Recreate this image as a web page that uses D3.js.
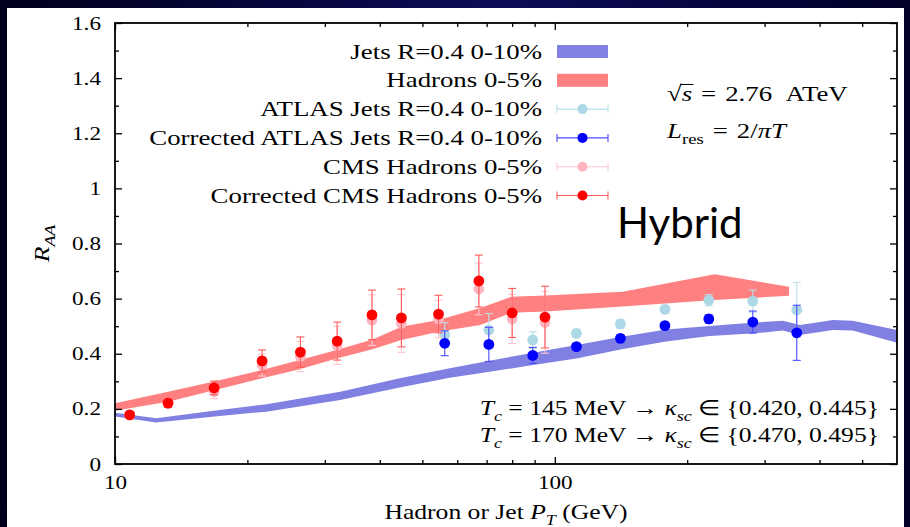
<!DOCTYPE html>
<html><head><meta charset="utf-8">
<script src="https://cdn.jsdelivr.net/npm/d3@7"></script>
<style>
html,body{margin:0;padding:0;background:#fff;}
svg{display:block;}
text{font-family:"Liberation Serif","Times New Roman",serif;fill:#000;}
</style></head><body>
<svg id="chart" width="910" height="527"></svg>
<script>
// ---------- data ----------
// CMS charged hadrons 0-5% (pT bin centres, GeV)
const hadronPt    = [10.8, 13.2, 16.8, 21.6, 26.4, 32.0, 38.4, 44.8, 54.4, 67.2, 80.0, 95.0];
const cmsRaa      = [0.178, 0.220, 0.263, 0.359, 0.390, 0.430, 0.522, 0.510, 0.526, 0.635, 0.526, 0.514];
const cmsErr      = [0.012, 0.015, 0.026, 0.040, 0.055, 0.069, 0.092, 0.105, 0.068, 0.094, 0.089, 0.112];
const corrCmsRaa  = [0.178, 0.221, 0.276, 0.374, 0.406, 0.446, 0.541, 0.530, 0.544, 0.664, 0.548, 0.533];
const corrCmsErr  = [0.012, 0.015, 0.025, 0.040, 0.055, 0.069, 0.090, 0.105, 0.068, 0.094, 0.089, 0.112];

// ATLAS jets R=0.4 0-10%
const jetPt        = [56.2, 70.8, 89.1, 112, 141, 178, 224, 282, 355];
const atlasRaa     = [0.468, 0.486, 0.450, 0.474, 0.508, 0.561, 0.594, 0.591, 0.559];
const atlasErr     = [0.045, 0.060, 0.030, 0.015, 0.015, 0.015, 0.020, 0.040, 0.100];
const corrAtlasRaa = [0.438, 0.434, 0.394, 0.426, 0.456, 0.502, 0.526, 0.515, 0.476];
const corrAtlasErr = [0.045, 0.062, 0.029, 0.012, 0.012, 0.012, 0.015, 0.040, 0.100];

// Hybrid model bands
const hadronBandPt = [10, 13.2, 16.8, 21.6, 26.3, 31.9, 38.5, 44.8, 54.4, 67.7, 79.8, 95.2, 142.7, 231, 341];
const hadronBandLo = [0.193, 0.226, 0.268, 0.311, 0.344, 0.383, 0.416, 0.450, 0.480, 0.504, 0.549, 0.553, 0.571, 0.595, 0.610];
const hadronBandHi = [0.220, 0.262, 0.299, 0.341, 0.377, 0.414, 0.452, 0.498, 0.522, 0.566, 0.607, 0.611, 0.625, 0.688, 0.643];

const jetBandPt = [10, 12.4, 17.3, 22.1, 32.5, 44.4, 57.7, 71.1, 89.3, 112, 142, 179, 225, 285, 330, 361, 429, 476, 600];
const jetBandLo = [0.172, 0.151, 0.174, 0.190, 0.232, 0.278, 0.313, 0.335, 0.359, 0.383, 0.416, 0.444, 0.464, 0.474, 0.484, 0.468, 0.486, 0.484, 0.440];
const jetBandHi = [0.186, 0.166, 0.196, 0.217, 0.262, 0.311, 0.347, 0.375, 0.404, 0.432, 0.462, 0.488, 0.501, 0.513, 0.520, 0.504, 0.522, 0.520, 0.486];

// axis ticks
const xMajorTicks = [10, 100];
const xMinorTicks = [20, 30, 40, 50, 60, 70, 80, 90, 200, 300, 400, 500];
const yMajorTicks = [0, 0.2, 0.4, 0.6, 0.8, 1, 1.2, 1.4, 1.6];
const yMinorTicks = [0.1, 0.3, 0.5, 0.7, 0.9, 1.1, 1.3, 1.5];

const legendLabels = ["Jets R=0.4 0-10%", "Hadrons 0-5%", "ATLAS Jets R=0.4 0-10%",
                      "Corrected ATLAS Jets R=0.4 0-10%", "CMS Hadrons 0-5%", "Corrected CMS Hadrons 0-5%"];

// ---------- layout ----------
const W = 910, H = 527;
const plot = {left: 115, right: 897, top: 23, bottom: 464};
const SX = 1.22;           // horizontal stretch of the serif text
const C = {
  jetBand: "#8080e2", hadBand: "#ff8080",
  atlas: "#add8e6", corrAtlas: "#0000ff", cms: "#ffb6c1", corrCms: "#ff0000"
};

const svg = d3.select("#chart");
const defs = svg.append("defs");

// slide frame
const grad = defs.append("linearGradient").attr("id", "frameGrad").attr("x1", 0).attr("x2", 1).attr("y1", 0).attr("y2", 0);
grad.append("stop").attr("offset", "0%").attr("stop-color", "#00001c");
grad.append("stop").attr("offset", "55%").attr("stop-color", "#0b0b58");
grad.append("stop").attr("offset", "100%").attr("stop-color", "#000028");
svg.append("rect").attr("width", W).attr("height", H).attr("fill", "url(#frameGrad)");
svg.append("rect").attr("x", 7).attr("y", 8).attr("width", 897).attr("height", H - 8).attr("fill", "#fff");

const x = d3.scaleLog().domain([10, 600]).range([plot.left, plot.right]);
const y = d3.scaleLinear().domain([0, 1.6]).range([plot.bottom, plot.top]);

defs.append("clipPath").attr("id", "plotClip").append("rect")
  .attr("x", plot.left).attr("y", plot.top)
  .attr("width", plot.right - plot.left).attr("height", plot.bottom - plot.top);

// ---------- bands ----------
const area = d3.area().x(d => x(d.pt)).y0(d => y(d.lo)).y1(d => y(d.hi));
const jetBand = jetBandPt.map((pt, i) => ({pt, lo: jetBandLo[i], hi: jetBandHi[i]}));
const hadBand = hadronBandPt.map((pt, i) => ({pt, lo: hadronBandLo[i], hi: hadronBandHi[i]}));
const gData = svg.append("g").attr("clip-path", "url(#plotClip)");
gData.append("path").datum(jetBand).attr("d", area).attr("fill", C.jetBand);
gData.append("path").datum(hadBand).attr("d", area).attr("fill", C.hadBand);

// ---------- points with error bars ----------
function errSeries(pts, vals, errs, color, barColor) {
  const data = pts.map((pt, i) => ({pt, v: vals[i], e: errs[i]}));
  const g = gData.append("g");
  const bars = g.selectAll("g.eb").data(data).join("g").attr("class", "eb")
    .attr("stroke", barColor).attr("stroke-width", 1.1);
  bars.append("line").attr("x1", d => x(d.pt)).attr("x2", d => x(d.pt))
    .attr("y1", d => y(d.v - d.e)).attr("y2", d => y(d.v + d.e));
  bars.append("line").attr("x1", d => x(d.pt) - 4).attr("x2", d => x(d.pt) + 4)
    .attr("y1", d => y(d.v - d.e)).attr("y2", d => y(d.v - d.e));
  bars.append("line").attr("x1", d => x(d.pt) - 4).attr("x2", d => x(d.pt) + 4)
    .attr("y1", d => y(d.v + d.e)).attr("y2", d => y(d.v + d.e));
  g.selectAll("circle").data(data).join("circle")
    .attr("cx", d => x(d.pt)).attr("cy", d => y(d.v)).attr("r", 5.4).attr("fill", color);
}
errSeries(jetPt, atlasRaa, atlasErr, C.atlas, "#b8e0ea");
errSeries(jetPt, corrAtlasRaa, corrAtlasErr, C.corrAtlas, "#4a4aff");
errSeries(hadronPt, cmsRaa, cmsErr, C.cms, "#ffc6cf");
errSeries(hadronPt, corrCmsRaa, corrCmsErr, C.corrCms, "#ff5a5a");

// ---------- axes ----------
function styleAxis(g) {
  g.select(".domain").remove();
  g.selectAll(".tick line").attr("stroke", "#000").attr("stroke-width", 1.3);
}
const tickFont = 19;
const gx = svg.append("g").attr("transform", `translate(0,${plot.bottom})`)
  .call(d3.axisBottom(x).tickValues(xMajorTicks).tickSize(-7).tickPadding(12).tickFormat(d3.format("d")));
styleAxis(gx);
gx.selectAll("text").attr("font-family", null).style("font-size", tickFont + "px")
  .attr("transform", `scale(${SX},1)`);
svg.append("g").attr("transform", `translate(0,${plot.bottom})`)
  .call(d3.axisBottom(x).tickValues(xMinorTicks).tickSize(-4).tickFormat("")).call(styleAxis);
svg.append("g").attr("transform", `translate(0,${plot.top})`)
  .call(d3.axisTop(x).tickValues(xMajorTicks).tickSize(-7).tickFormat("")).call(styleAxis);
svg.append("g").attr("transform", `translate(0,${plot.top})`)
  .call(d3.axisTop(x).tickValues(xMinorTicks).tickSize(-4).tickFormat("")).call(styleAxis);

const gy = svg.append("g").attr("transform", `translate(${plot.left},0)`)
  .call(d3.axisLeft(y).tickValues(yMajorTicks).tickSize(-7).tickPadding(14).tickFormat(d => String(d)));
styleAxis(gy);
gy.selectAll("text").attr("font-family", null).style("font-size", tickFont + "px")
  .attr("x", -14 / SX).attr("transform", `scale(${SX},1)`);
svg.append("g").attr("transform", `translate(${plot.left},0)`)
  .call(d3.axisLeft(y).tickValues(yMinorTicks).tickSize(-4).tickFormat("")).call(styleAxis);
svg.append("g").attr("transform", `translate(${plot.right},0)`)
  .call(d3.axisRight(y).tickValues(yMajorTicks).tickSize(-7).tickFormat("")).call(styleAxis);
svg.append("g").attr("transform", `translate(${plot.right},0)`)
  .call(d3.axisRight(y).tickValues(yMinorTicks).tickSize(-4).tickFormat("")).call(styleAxis);

svg.append("rect").attr("x", plot.left).attr("y", plot.top)
  .attr("width", plot.right - plot.left).attr("height", plot.bottom - plot.top)
  .attr("fill", "none").attr("stroke", "#000").attr("stroke-width", 1.8);

// ---------- text helpers ----------
// parts: {t, i (italic), sub (subscript)}
function mathText(px, py, anchor, size, parts, rotate) {
  const g = svg.append("g")
    .attr("transform", `translate(${px},${py})` + (rotate ? ` rotate(${rotate})` : "") + ` scale(${SX},1)`);
  const t = g.append("text").attr("text-anchor", anchor).style("font-size", size + "px");
  let shifted = 0;
  parts.forEach(p => {
    const ts = t.append("tspan").text(p.t);
    if (p.i) ts.style("font-style", "italic");
    if (p.sub) {
      ts.style("font-size", (size * 0.7) + "px").attr("dy", (size * 0.28 - shifted));
      shifted = size * 0.28;
    } else if (shifted) {
      ts.attr("dy", -shifted); shifted = 0;
    }
  });
  return {g, t};
}

// axis titles
mathText((plot.left + plot.right) / 2, 519, "middle", 21, [
  {t: "Hadron or Jet "}, {t: "P", i: true}, {t: "T", i: true, sub: true}, {t: " (GeV)"}]);
mathText(49, (plot.top + plot.bottom) / 2, "middle", 21, [
  {t: "R", i: true}, {t: "AA", i: true, sub: true}], -90);

// annotations
const sq = mathText(667, 101, "start", 22, [
  {t: "√"}, {t: "s", i: true}, {t: "\u2004=\u20042.76\u2002ATeV"}]);
{
  const n = sq.t.node();
  const a = n.getStartPositionOfChar(1).x, b = n.getEndPositionOfChar(1).x;
  sq.g.append("line").attr("x1", a - 1).attr("x2", b + 1).attr("y1", -16.5).attr("y2", -16.5)
    .attr("stroke", "#000").attr("stroke-width", 1);
}
mathText(667, 138, "start", 22, [
  {t: "L", i: true}, {t: "res", sub: true}, {t: "\u2004=\u20042/"}, {t: "πT", i: true}]);

mathText(879, 415, "end", 21, [
  {t: "T", i: true}, {t: "c", i: true, sub: true}, {t: " = 145 MeV → "},
  {t: "κ", i: true}, {t: "sc", i: true, sub: true}, {t: " ∈ {0.420, 0.445}"}]);
mathText(879, 442, "end", 21, [
  {t: "T", i: true}, {t: "c", i: true, sub: true}, {t: " = 170 MeV → "},
  {t: "κ", i: true}, {t: "sc", i: true, sub: true}, {t: " ∈ {0.470, 0.495}"}]);

svg.append("text").attr("x", 617).attr("y", 238)
  .style("font-family", "Lato, 'Open Sans', sans-serif").style("font-size", "42px").text("Hybrid");

// ---------- legend ----------
const legendKinds = [
  {type: "band", color: C.jetBand},
  {type: "band", color: C.hadBand},
  {type: "point", color: C.atlas, bar: "#b8e0ea"},
  {type: "point", color: C.corrAtlas, bar: "#4a4aff"},
  {type: "point", color: C.cms, bar: "#ffc6cf"},
  {type: "point", color: C.corrCms, bar: "#ff5a5a"}
];
const legX0 = 557, legX1 = 608, legTextX = 542, legY0 = 51.5, legDY = 28.8;
legendLabels.forEach((label, i) => {
  const cy = legY0 + i * legDY;
  const k = legendKinds[i];
  mathText(legTextX, cy + 7, "end", 22, [{t: label}]);
  if (k.type === "band") {
    svg.append("rect").attr("x", legX0).attr("y", cy - 6.5).attr("width", legX1 - legX0).attr("height", 13)
      .attr("fill", k.color);
  } else {
    const lg = svg.append("g").attr("stroke", k.bar).attr("stroke-width", 1.1);
    lg.append("line").attr("x1", legX0).attr("x2", legX1).attr("y1", cy).attr("y2", cy);
    lg.append("line").attr("x1", legX0).attr("x2", legX0).attr("y1", cy - 4).attr("y2", cy + 4);
    lg.append("line").attr("x1", legX1).attr("x2", legX1).attr("y1", cy - 4).attr("y2", cy + 4);
    svg.append("circle").attr("cx", (legX0 + legX1) / 2).attr("cy", cy).attr("r", 5).attr("fill", k.color);
  }
});
</script>
</body></html>
